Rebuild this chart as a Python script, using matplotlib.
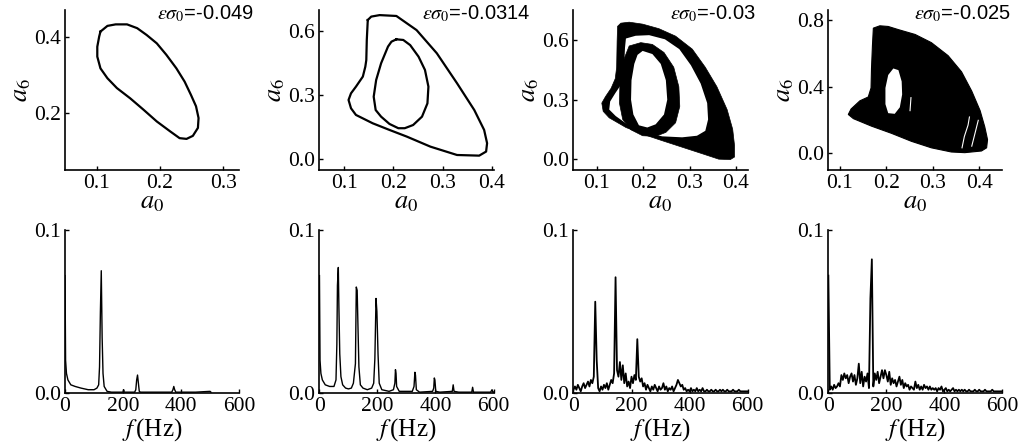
import numpy as np
import matplotlib
matplotlib.use("Agg")
from matplotlib import pyplot as plt

plt.rcParams['font.family'] = ['Liberation Serif', 'DejaVu Serif']
plt.rcParams['mathtext.fontset'] = 'stix'

# ---- top row: phase portraits (a0, a6) ----
eps_labels = ["-0.049", "-0.0314", "-0.03", "-0.025"]

# eps = -0.049, single period-1 loop
loop1_a0 = [0.106, 0.117, 0.130, 0.148, 0.164, 0.179, 0.195, 0.210, 0.226, 0.239, 0.249, 0.257, 0.261,
            0.260, 0.252, 0.242, 0.231, 0.216, 0.195, 0.174, 0.153, 0.132, 0.117, 0.106, 0.101, 0.101, 0.104]
loop1_a6 = [0.415, 0.430, 0.434, 0.434, 0.424, 0.406, 0.384, 0.354, 0.318, 0.283, 0.248, 0.218, 0.187,
            0.161, 0.140, 0.132, 0.134, 0.152, 0.178, 0.209, 0.239, 0.266, 0.292, 0.318, 0.349, 0.375, 0.402]

# eps = -0.0314, period-2 orbit: outer and inner loop
loop2o_a0 = [0.148, 0.155, 0.172, 0.206, 0.247, 0.288, 0.329, 0.364, 0.384, 0.390, 0.388, 0.374, 0.329,
             0.275, 0.227, 0.192, 0.158, 0.124, 0.114, 0.109, 0.114, 0.124, 0.138, 0.143, 0.145, 0.146]
loop2o_a6 = [0.650, 0.666, 0.673, 0.669, 0.603, 0.495, 0.355, 0.230, 0.137, 0.075, 0.036, 0.017, 0.020,
             0.059, 0.106, 0.137, 0.168, 0.207, 0.238, 0.277, 0.308, 0.339, 0.386, 0.432, 0.463, 0.557]
loop2i_a0 = [0.206, 0.220, 0.234, 0.251, 0.264, 0.271, 0.269, 0.258, 0.240, 0.223, 0.210, 0.192, 0.175,
             0.164, 0.160, 0.165, 0.175, 0.189, 0.196]
loop2i_a6 = [0.560, 0.557, 0.533, 0.479, 0.417, 0.339, 0.261, 0.199, 0.160, 0.145, 0.145, 0.165, 0.199,
             0.230, 0.292, 0.370, 0.448, 0.526, 0.549]

# eps = -0.03, two thick bands (quasi-periodic)
band3_out_a0 = [0.145, 0.152, 0.170, 0.199, 0.234, 0.270, 0.306, 0.334, 0.359, 0.381, 0.393, 0.397, 0.397,
                0.388, 0.363, 0.327, 0.284, 0.241, 0.199, 0.163, 0.127, 0.114, 0.111, 0.119, 0.131, 0.140,
                0.143, 0.144]
band3_out_a6 = [0.672, 0.688, 0.693, 0.683, 0.660, 0.622, 0.556, 0.464, 0.365, 0.249, 0.149, 0.066, 0.008,
                -0.005, -0.003, 0.025, 0.058, 0.091, 0.124, 0.158, 0.207, 0.240, 0.282, 0.315, 0.357, 0.406,
                0.464, 0.597]
gap3_a0 = [0.163, 0.184, 0.213, 0.247, 0.278, 0.303, 0.324, 0.338, 0.340, 0.334, 0.316, 0.284, 0.241,
           0.199, 0.166, 0.141, 0.127, 0.129, 0.140, 0.154, 0.159, 0.161]
gap3_a6 = [0.610, 0.624, 0.627, 0.606, 0.556, 0.474, 0.381, 0.282, 0.199, 0.141, 0.116, 0.108, 0.113,
           0.136, 0.174, 0.216, 0.249, 0.290, 0.332, 0.381, 0.464, 0.564]
band3_in_a0 = [0.170, 0.195, 0.220, 0.245, 0.266, 0.277, 0.279, 0.270, 0.249, 0.227, 0.199, 0.174, 0.156,
               0.149, 0.150, 0.156]
band3_in_a6 = [0.572, 0.589, 0.580, 0.539, 0.464, 0.365, 0.265, 0.182, 0.133, 0.113, 0.116, 0.146, 0.199,
               0.282, 0.381, 0.489]
hole3_a0 = [0.199, 0.220, 0.238, 0.249, 0.252, 0.245, 0.227, 0.209, 0.191, 0.179, 0.174, 0.175, 0.181, 0.188]
hole3_a6 = [0.547, 0.531, 0.481, 0.398, 0.299, 0.224, 0.174, 0.158, 0.169, 0.224, 0.299, 0.398, 0.481, 0.527]

# eps = -0.025, chaotic attractor
chaos4_a0 = [0.172, 0.186, 0.204, 0.226, 0.262, 0.297, 0.333, 0.362, 0.384, 0.402, 0.412, 0.418, 0.416,
             0.405, 0.369, 0.340, 0.297, 0.254, 0.211, 0.168, 0.129, 0.118, 0.124, 0.143, 0.161, 0.167,
             0.168, 0.170]
chaos4_a6 = [0.751, 0.765, 0.761, 0.742, 0.713, 0.664, 0.586, 0.489, 0.373, 0.256, 0.159, 0.082, 0.033,
             0.014, 0.004, 0.008, 0.033, 0.072, 0.120, 0.163, 0.208, 0.233, 0.266, 0.315, 0.338, 0.392,
             0.509, 0.645]
hole4_a0 = [0.215, 0.226, 0.233, 0.234, 0.229, 0.218, 0.204, 0.198, 0.198, 0.204]
hole4_a6 = [0.509, 0.499, 0.431, 0.353, 0.276, 0.237, 0.241, 0.295, 0.392, 0.470]
streaks4 = [([0.363, 0.368, 0.376, 0.379], [0.033, 0.101, 0.169, 0.218]),
            ([0.384, 0.391, 0.398], [0.043, 0.120, 0.198]),
            ([0.253, 0.251], [0.334, 0.256])]

# ---- bottom row: amplitude spectra ----
f1 = [0, 2, 5, 10, 20, 35, 55, 80, 100, 110, 116, 119, 122, 125, 128, 131, 135, 145, 160, 200, 202, 204,
      240, 244, 247, 250, 253, 256, 260, 300, 368, 372, 375, 378, 382, 450, 500, 503]
amp1 = [0.072, 0.02, 0.012, 0.008, 0.005, 0.004, 0.003, 0.002, 0.002, 0.003, 0.005, 0.016, 0.05, 0.075,
        0.034, 0.012, 0.004, 0.001, 0.0005, 0.0005, 0.002, 0.0005, 0.0005, 0.002, 0.008, 0.011, 0.006,
        0.001, 0.0005, 0.0005, 0.0005, 0.002, 0.004, 0.002, 0.0005, 0.0005, 0.001, 0.0005]

f2 = [0, 2, 5, 10, 20, 35, 50, 57, 60, 62, 65, 67, 70, 74, 80, 90, 100, 110, 117, 124, 127, 130, 133, 136,
      141, 150, 165, 180, 187, 191, 195, 198, 202, 206, 215, 240, 255, 260, 262, 264, 266, 275, 320, 326,
      329, 331, 334, 345, 390, 394, 396, 398, 401, 415, 458, 461, 464, 480, 525, 528, 531, 590, 595, 598, 600]
amp2 = [0.072, 0.02, 0.012, 0.008, 0.005, 0.004, 0.004, 0.008, 0.03, 0.066, 0.077, 0.053, 0.024, 0.01,
        0.005, 0.003, 0.0025, 0.003, 0.006, 0.018, 0.065, 0.063, 0.039, 0.016, 0.005, 0.003, 0.002, 0.003,
        0.006, 0.021, 0.058, 0.05, 0.0235, 0.006, 0.002, 0.001, 0.002, 0.006, 0.0143, 0.012, 0.004, 0.001,
        0.001, 0.004, 0.0127, 0.011, 0.002, 0.0005, 0.001, 0.003, 0.0092, 0.008, 0.001, 0.0005, 0.001,
        0.005, 0.001, 0.0005, 0.0005, 0.0035, 0.0005, 0.0005, 0.002, 0.0005, 0.0005]

f_grid = np.arange(0, 601, 5)
amp3 = [0.002, 0.004, 0.002, 0.005, 0.003, 0.001, 0.004, 0.006, 0.003, 0.005, 0.007, 0.004, 0.008, 0.006,
        0.010, 0.056, 0.020, 0.003, 0.001, 0.004, 0.002, 0.005, 0.003, 0.006, 0.002, 0.005, 0.008, 0.006,
        0.012, 0.071, 0.014, 0.010, 0.019, 0.008, 0.017, 0.006, 0.012, 0.004, 0.007, 0.003, 0.010, 0.006,
        0.011, 0.008, 0.033, 0.010, 0.007, 0.009, 0.004, 0.006, 0.002, 0.005, 0.003, 0.001, 0.004, 0.002,
        0.005, 0.003, 0.001, 0.004, 0.002, 0.003, 0.006, 0.002, 0.004, 0.001, 0.003, 0.002, 0.004, 0.001,
        0.003, 0.005, 0.008, 0.006, 0.004, 0.005, 0.002, 0.003, 0.001, 0.002, 0.001, 0.003, 0.001, 0.002,
        0.001, 0.003, 0.001, 0.002, 0.001, 0.003, 0.001, 0.001, 0.002, 0.001, 0.001, 0.002, 0.001, 0.001,
        0.002, 0.001, 0.001, 0.002, 0.001, 0.002, 0.001, 0.001, 0.002, 0.001, 0.001, 0.001, 0.002, 0.001,
        0.001, 0.001, 0.002, 0.001, 0.001, 0.001, 0.001, 0.001, 0.001]
amp4 = [0.072, 0.002, 0.004, 0.002, 0.005, 0.003, 0.004, 0.006, 0.004, 0.011, 0.008, 0.012, 0.009, 0.011,
        0.006, 0.010, 0.012, 0.007, 0.011, 0.005, 0.009, 0.018, 0.006, 0.013, 0.004, 0.010, 0.007, 0.012,
        0.003, 0.058, 0.082, 0.004, 0.012, 0.008, 0.013, 0.006, 0.010, 0.014, 0.009, 0.014, 0.011, 0.007,
        0.013, 0.005, 0.009, 0.006, 0.008, 0.004, 0.007, 0.010, 0.005, 0.008, 0.003, 0.006, 0.004, 0.005,
        0.002, 0.004, 0.003, 0.002, 0.007, 0.003, 0.005, 0.002, 0.004, 0.002, 0.005, 0.003, 0.004, 0.002,
        0.004, 0.002, 0.003, 0.002, 0.003, 0.001, 0.003, 0.002, 0.004, 0.001, 0.002, 0.003, 0.001, 0.002,
        0.001, 0.002, 0.003, 0.001, 0.002, 0.001, 0.002, 0.001, 0.002, 0.001, 0.002, 0.001, 0.001, 0.002,
        0.001, 0.001, 0.001, 0.002, 0.001, 0.001, 0.002, 0.001, 0.001, 0.001, 0.002, 0.001, 0.001, 0.001,
        0.001, 0.002, 0.001, 0.001, 0.001, 0.001, 0.001, 0.001, 0.001]

top_xlims = [(0.05, 0.325), (0.05, 0.403), (0.05, 0.425), (0.075, 0.45)]
top_ylims = [(0.05, 0.472), (-0.05, 0.697), (-0.058, 0.755), (-0.1, 0.86)]
top_xticks = [[0.1, 0.2, 0.3], [0.1, 0.2, 0.3, 0.4], [0.1, 0.2, 0.3, 0.4], [0.1, 0.2, 0.3, 0.4]]
top_yticks = [[0.2, 0.4], [0.0, 0.3, 0.6], [0.0, 0.3, 0.6], [0.0, 0.4, 0.8]]
text_x = [0.53, 0.59, 0.557, 0.49]

fig = plt.figure(figsize=(10.19, 4.45), dpi=100)
lefts = [0.0638, 0.3135, 0.5628, 0.8129]
w = 0.1708

def style(ax):
    for s in ['top', 'right']:
        ax.spines[s].set_visible(False)
    for s in ['left', 'bottom']:
        ax.spines[s].set_linewidth(1.2)
        ax.spines[s].set_zorder(5)
    ax.tick_params(direction='in', length=3, width=1, labelsize=15.5, pad=3)

top_axes = [fig.add_axes([l, 0.618, w, 0.3596]) for l in lefts]
bot_axes = [fig.add_axes([l, 0.1169, w, 0.3663]) for l in lefts]

ax = top_axes[0]
ax.plot(loop1_a0 + loop1_a0[:1], loop1_a6 + loop1_a6[:1], color='black', lw=1.6)

ax = top_axes[1]
ax.plot(loop2o_a0 + loop2o_a0[:1], loop2o_a6 + loop2o_a6[:1], color='black', lw=1.6)
ax.plot(loop2i_a0 + loop2i_a0[:1], loop2i_a6 + loop2i_a6[:1], color='black', lw=1.6)

ax = top_axes[2]
ax.fill(band3_out_a0, band3_out_a6, color='black', lw=0.5)
ax.fill(gap3_a0, gap3_a6, color='white', lw=0)
ax.fill(band3_in_a0, band3_in_a6, color='black', lw=0.5)
ax.fill(hole3_a0, hole3_a6, color='white', lw=0)

ax = top_axes[3]
ax.fill(chaos4_a0, chaos4_a6, color='black', lw=0.8)
ax.fill(hole4_a0, hole4_a6, color='white', lw=0)
for sx, sy in streaks4:
    ax.plot(sx, sy, color='white', lw=0.8)

for i, ax in enumerate(top_axes):
    style(ax)
    ax.set_xlim(top_xlims[i])
    ax.set_ylim(top_ylims[i])
    ax.set_xticks(top_xticks[i])
    ax.set_yticks(top_yticks[i])
    ax.xaxis.set_major_formatter(matplotlib.ticker.FormatStrFormatter('%.1f'))
    ax.yaxis.set_major_formatter(matplotlib.ticker.FormatStrFormatter('%.1f'))
    ax.set_xlabel(r'$a_0$', fontsize=19, labelpad=-1)
    ax.set_ylabel(r'$a_6$', fontsize=19, labelpad=1)
    ax.text(text_x[i], 0.975, r'$\varepsilon\sigma_0$=' + eps_labels[i], transform=ax.transAxes,
            fontsize=14.5, family=['Liberation Sans', 'DejaVu Sans'], ha='left', va='center', clip_on=False)

spectra = [(f1, amp1, 1.0), (f2, amp2, 1.0), (f_grid, amp3, 1.3), (f_grid, amp4, 1.3)]
for ax, (f, a, lw) in zip(bot_axes, spectra):
    ax.plot(f, a, color='black', lw=lw)
    style(ax)
    ax.set_xlim(0, 600)
    ax.set_ylim(0, 0.1)
    ax.set_xticks([0, 200, 400, 600])
    ax.set_yticks([0.0, 0.1])
    ax.yaxis.set_major_formatter(matplotlib.ticker.FormatStrFormatter('%.1f'))
    ax.set_xlabel(r'$f\,$(Hz)', fontsize=18, labelpad=0)

fig.savefig('out.png', dpi=100)
